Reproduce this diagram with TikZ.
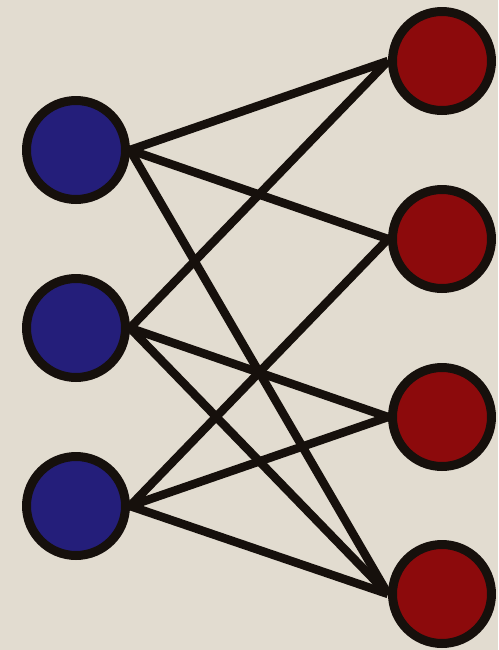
\documentclass[tikz,border=0pt]{standalone}
\usepackage{xcolor}
\usetikzlibrary{backgrounds}
\definecolor{paper}{RGB}{226,220,208}
\definecolor{leftblue}{RGB}{36,30,122}
\definecolor{rightred}{RGB}{140,10,12}
\definecolor{ink}{RGB}{22,16,12}
\begin{document}
\begin{tikzpicture}[x=0.02cm,y=-0.02cm,
  vert/.style={circle,draw=ink,line width=0.18cm,minimum size=1.98cm,inner sep=0pt},
  bvert/.style={vert,fill=leftblue},
  rvert/.style={vert,fill=rightred},
  link/.style={draw=ink,line width=0.17cm}]
\useasboundingbox (0,0) rectangle (498,650);
\node[bvert] (B1) at (76,150) {};
\node[bvert] (B2) at (76,328) {};
\node[bvert] (B3) at (76,506) {};
\node[rvert] (R1) at (442,61) {};
\node[rvert] (R2) at (442,239) {};
\node[rvert] (R3) at (442,417) {};
\node[rvert] (R4) at (442,594) {};
\begin{scope}[on background layer]
\fill[paper] (0,0) rectangle (498,650);
\draw[link] (B1.east)--(R1.west);\draw[link] (B1.east)--(R2.west);\draw[link] (B1.east)--(R4.west);
\draw[link] (B2.east)--(R1.west);\draw[link] (B2.east)--(R3.west);\draw[link] (B2.east)--(R4.west);
\draw[link] (B3.east)--(R2.west);\draw[link] (B3.east)--(R3.west);\draw[link] (B3.east)--(R4.west);
\end{scope}
\end{tikzpicture}
\end{document}
